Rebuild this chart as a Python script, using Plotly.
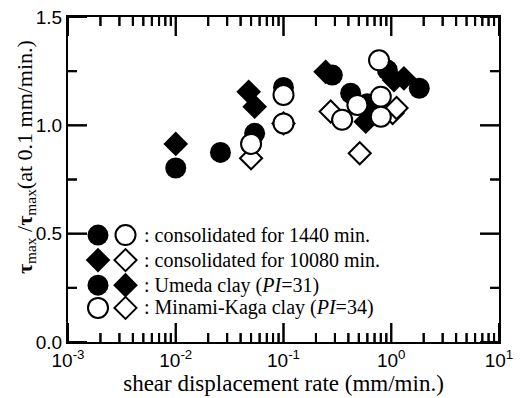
import plotly.graph_objects as go

# Shear strength ratio vs. shear displacement rate
# Umeda clay, consolidated 1440 min (filled circles)
umeda_1440_rate = [0.01, 0.026, 0.054, 0.1, 0.284, 0.42, 0.6, 0.92, 1.82]
umeda_1440_ratio = [0.803, 0.875, 0.963, 1.175, 1.232, 1.148, 1.10, 1.255, 1.171]

# Umeda clay, consolidated 10080 min (filled diamonds)
umeda_10080_rate = [0.01, 0.0475, 0.054, 0.246, 0.58, 0.70, 1.06, 1.31]
umeda_10080_ratio = [0.914, 1.155, 1.086, 1.247, 1.017, 1.08, 1.209, 1.217]

# Minami-Kaga clay, consolidated 1440 min (open circles)
mk_1440_rate = [0.05, 0.1, 0.1, 0.35, 0.485, 0.77, 0.80, 0.80]
mk_1440_ratio = [0.914, 1.140, 1.009, 1.026, 1.094, 1.300, 1.132, 1.040]

# Minami-Kaga clay, consolidated 10080 min (open diamonds)
mk_10080_rate = [0.05, 0.1, 0.274, 0.51, 1.03, 1.12]
mk_10080_ratio = [0.848, 1.009, 1.064, 0.871, 1.057, 1.08]

x_tick_vals = [1e-3, 1e-2, 1e-1, 1e0, 1e1]
x_tick_text = ["10<sup>-3</sup>", "10<sup>-2</sup>", "10<sup>-1</sup>",
               "10<sup>0</sup>", "10<sup>1</sup>"]
x_minor_vals = [m * d for d in [1e-3, 1e-2, 1e-1, 1e0] for m in range(2, 10)]
y_tick_vals = [0.0, 0.5, 1.0, 1.5]
y_tick_text = ["0.0", "0.5", "1.0", "1.5"]
y_minor_vals = [0.25, 0.75, 1.25]

legend_rows = [
    ": consolidated for 1440 min.",
    ": consolidated for 10080 min.",
    ": Umeda clay (<i>PI</i>=31)",
    ": Minami-Kaga clay (<i>PI</i>=34)",
]

SERIF = "Liberation Serif"
SANS = "Liberation Sans"

# axis ranges and plotting-area size (px) used to express tick lengths
X_LOG_MIN, X_LOG_MAX = -3, 1
Y_MIN, Y_MAX = 0.0, 1.5
PLOT_W, PLOT_H = 431, 325
MAJOR_LEN, MINOR_LEN = 19, 9

filled_circle = dict(symbol="circle", size=21, color="black", line=dict(width=0))
filled_diamond = dict(symbol="diamond", size=19, color="black", line=dict(width=0))
open_circle = dict(symbol="circle", size=20, color="white", line=dict(width=2, color="black"))
open_diamond = dict(symbol="diamond", size=17, color="white", line=dict(width=2, color="black"))

fig = go.Figure()

# Tick marks pointing into the frame on all four sides: line segments ...
tx, ty = [], []
for vals, length in ((x_tick_vals, MAJOR_LEN), (x_minor_vals, MINOR_LEN)):
    h = (Y_MAX - Y_MIN) * length / PLOT_H
    for v in vals:
        tx += [v, v, None, v, v, None]
        ty += [Y_MIN, Y_MIN + h, None, Y_MAX, Y_MAX - h, None]
for vals, length in ((y_tick_vals, MAJOR_LEN), (y_minor_vals, MINOR_LEN)):
    d = (X_LOG_MAX - X_LOG_MIN) * length / PLOT_W
    for v in vals:
        tx += [10 ** X_LOG_MIN, 10 ** (X_LOG_MIN + d), None,
               10 ** X_LOG_MAX, 10 ** (X_LOG_MAX - d), None]
        ty += [v, v, None, v, v, None]
fig.add_trace(go.Scatter(x=tx, y=ty, mode="lines", line=dict(color="black", width=2),
                         hoverinfo="skip", cliponaxis=False))

# ... backed by line-shaped markers of the same length (line length = 1.4 * size)
for vals, length in ((x_tick_vals, MAJOR_LEN), (x_minor_vals, MINOR_LEN)):
    h = (Y_MAX - Y_MIN) * length / PLOT_H
    fig.add_trace(go.Scatter(
        x=vals + vals, y=[Y_MIN + h / 2] * len(vals) + [Y_MAX - h / 2] * len(vals),
        mode="markers", hoverinfo="skip", cliponaxis=False,
        marker=dict(symbol="line-ns", size=length / 1.4,
                    line=dict(width=2, color="black"))))
for vals, length in ((y_tick_vals, MAJOR_LEN), (y_minor_vals, MINOR_LEN)):
    d = (X_LOG_MAX - X_LOG_MIN) * length / PLOT_W
    fig.add_trace(go.Scatter(
        x=[10 ** (X_LOG_MIN + d / 2)] * len(vals) + [10 ** (X_LOG_MAX - d / 2)] * len(vals),
        y=vals + vals,
        mode="markers", hoverinfo="skip", cliponaxis=False,
        marker=dict(symbol="line-ew", size=length / 1.4,
                    line=dict(width=2, color="black"))))

fig.add_trace(go.Scatter(x=umeda_1440_rate, y=umeda_1440_ratio, mode="markers",
                         marker=filled_circle))
fig.add_trace(go.Scatter(x=umeda_10080_rate, y=umeda_10080_ratio, mode="markers",
                         marker=filled_diamond))
fig.add_trace(go.Scatter(x=mk_10080_rate, y=mk_10080_ratio, mode="markers",
                         marker=open_diamond))
fig.add_trace(go.Scatter(x=mk_1440_rate, y=mk_1440_ratio, mode="markers",
                         marker=open_circle))

# Key: two symbols per row, placed at fractions of the plotting area
key_rows_frac = [0.329, 0.252, 0.175, 0.105]
key_cols_frac = [0.0696, 0.1334]
key_text_frac = 0.172
key_styles = [
    (filled_circle, open_circle),
    (filled_diamond, open_diamond),
    (filled_circle, filled_diamond),
    (open_circle, open_diamond),
]


def frac_to_x(f):
    return 10 ** (X_LOG_MIN + (X_LOG_MAX - X_LOG_MIN) * f)


for ry, (left, right) in zip(key_rows_frac, key_styles):
    for cx, style in zip(key_cols_frac, (left, right)):
        fig.add_trace(go.Scatter(x=[frac_to_x(cx)], y=[Y_MIN + (Y_MAX - Y_MIN) * ry],
                                 mode="markers", marker=style))

for ry, txt in zip(key_rows_frac, legend_rows):
    fig.add_annotation(x=key_text_frac, y=ry, xref="x domain", yref="y domain",
                       text=txt, showarrow=False, xanchor="left", yanchor="middle",
                       font=dict(family=SERIF, size=20, color="black"))

# Rotated y-axis title
fig.add_annotation(
    x=-0.099, y=0.57, xref="paper", yref="paper", textangle=-90, showarrow=False,
    text="<b>τ</b><sub>max</sub> /<b>τ</b><sub>max</sub>(at 0.1 mm/min.)",
    font=dict(family=SERIF, size=22, color="black"),
    xanchor="center", yanchor="middle",
)

frame = dict(showline=True, linewidth=2, linecolor="black", mirror=True,
             showgrid=False, zeroline=False, ticks="", automargin=False)

fig.update_layout(
    width=524, height=398,
    margin=dict(l=68, r=25, t=17, b=56),
    paper_bgcolor="white", plot_bgcolor="white",
    showlegend=False,
    xaxis=dict(
        type="log", range=[X_LOG_MIN, X_LOG_MAX],
        tickmode="array", tickvals=x_tick_vals, ticktext=x_tick_text,
        tickfont=dict(family=SANS, size=19, color="black"),
        title=dict(text="shear displacement rate (mm/min.)",
                   font=dict(family=SERIF, size=23, color="black"), standoff=4),
        **frame,
    ),
    yaxis=dict(
        range=[Y_MIN, Y_MAX],
        tickmode="array", tickvals=y_tick_vals, ticktext=y_tick_text,
        tickfont=dict(family=SANS, size=19, color="black"),
        **frame,
    ),
)

fig.write_html("out.html")
